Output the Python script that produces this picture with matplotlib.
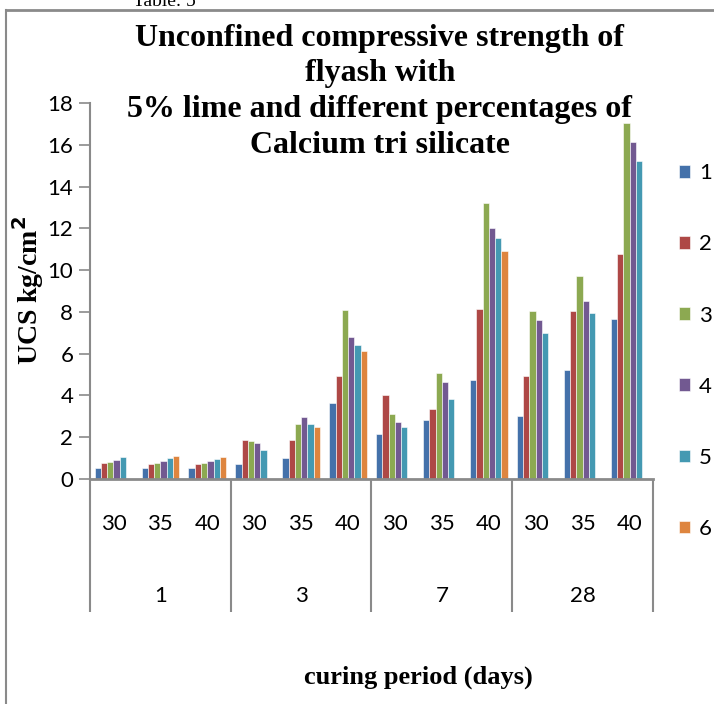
import matplotlib
matplotlib.use('Agg')
import matplotlib.pyplot as plt
from matplotlib.lines import Line2D
import numpy as np

days = ['1', '3', '7', '28']
subs = ['30', '35', '40']
series = ['1', '2', '3', '4', '5', '6']
nan = np.nan
# one row per series, 12 columns (day x sub-category)
s1 = [0.54, 0.51, 0.51, 0.71, 1.01, 3.63, 2.14, 2.81, 4.76, 3.00, 5.22, 7.65]
s2 = [0.75, 0.71, 0.70, 1.87, 1.87, 4.95, 4.00, 3.37, 8.14, 4.95, 8.06, 10.75]
s3 = [0.81, 0.78, 0.76, 1.81, 2.63, 8.10, 3.10, 5.08, 13.20, 8.06, 9.70, 17.05]
s4 = [0.89, 0.86, 0.86, 1.70, 2.97, 6.80, 2.71, 4.65, 12.00, 7.60, 8.52, 16.15]
s5 = [1.03, 1.00, 0.94, 1.38, 2.63, 6.41, 2.48, 3.82, 11.55, 7.00, 7.95, 15.25]
s6 = [nan, 1.11, 1.03, nan, 2.48, 6.14, nan, nan, 10.94, nan, nan, nan]
values = [s1, s2, s3, s4, s5, s6]
colors = ['#4471AA', '#AE4846', '#8CA951', '#725991', '#4499B2', '#DE853F']
title_lines = ['Unconfined compressive strength of', 'flyash with',
               '5% lime and different percentages of', 'Calcium tri silicate']

serif = ['Liberation Serif', 'DejaVu Serif']
sans = ['Lato', 'DejaVu Sans']

fig = plt.figure(figsize=(7.14, 7.04), dpi=100)
ax = fig.add_axes([0.126, 0.3196, 0.7886, 0.534])

n = len(days) * len(subs)
x = np.arange(n) + 0.5
w = 1 / 7.5
for j, vals in enumerate(values):
    ax.bar(x + (j - 2.5) * w, vals, w, color=colors[j], label=series[j],
           edgecolor='white', linewidth=0.4)

ax.set_xlim(0, n)
ax.set_ylim(0, 18)
ax.set_yticks(np.arange(0, 19, 2))
for s in ['top', 'right']:
    ax.spines[s].set_visible(False)
ax.spines['left'].set_color('#8a8a8a')
ax.spines['left'].set_linewidth(1.5)
ax.spines['bottom'].set_color('#8a8a8a')
ax.spines['bottom'].set_linewidth(2)
ax.tick_params(axis='y', length=8, width=1.2, color='#8a8a8a', labelsize=16, pad=4)
for lab in ax.get_yticklabels():
    lab.set_family(sans)

ax.set_xticks(x)
ax.set_xticklabels(subs * len(days), fontsize=16, family=sans)
ax.tick_params(axis='x', length=0, pad=25)

# group labels and separators
xt = ax.get_xaxis_transform()
for i, d in enumerate(days):
    ax.text(i * 3 + 1.5, -0.31, d, transform=xt, ha='center', va='center',
            fontsize=16, family=sans)
ax.vlines(np.arange(0, n + 1, 3), -0.354, 0, transform=xt, clip_on=False,
          color='#8a8a8a', linewidth=1.5)

# title, one line at a time
for line, yy in zip(title_lines, [0.946, 0.896, 0.844, 0.794]):
    fig.text(0.532, yy, line, ha='center', va='center', fontsize=23,
             fontweight='bold', family=serif)

fig.text(0.039, 0.587, 'UCS kg/cm$^\\mathbf{2}$', rotation=90, ha='center', va='center',
         fontsize=20, fontweight='bold', family=serif)
fig.text(0.586, 0.038, 'curing period (days)', ha='center', va='center',
         fontsize=19, fontweight='bold', family=serif)

fig.text(0.23, 0.998, 'Table: 5', ha='center', va='center', fontsize=14, family=serif)

# frame
fig.add_artist(Line2D([0.008, 0.008], [0, 0.986], color='#8a8a8a', linewidth=1.5))
fig.add_artist(Line2D([0.008, 1], [0.986, 0.986], color='#8a8a8a', linewidth=2))

leg = fig.legend(loc='upper left', bbox_to_anchor=(0.951, 0.768), frameon=False,
                 handlelength=0.5, handleheight=0.5, handletextpad=0.4,
                 labelspacing=2.3, prop={'family': sans, 'size': 16},
                 borderaxespad=0, borderpad=0)

fig.savefig('out.png', dpi=100)
